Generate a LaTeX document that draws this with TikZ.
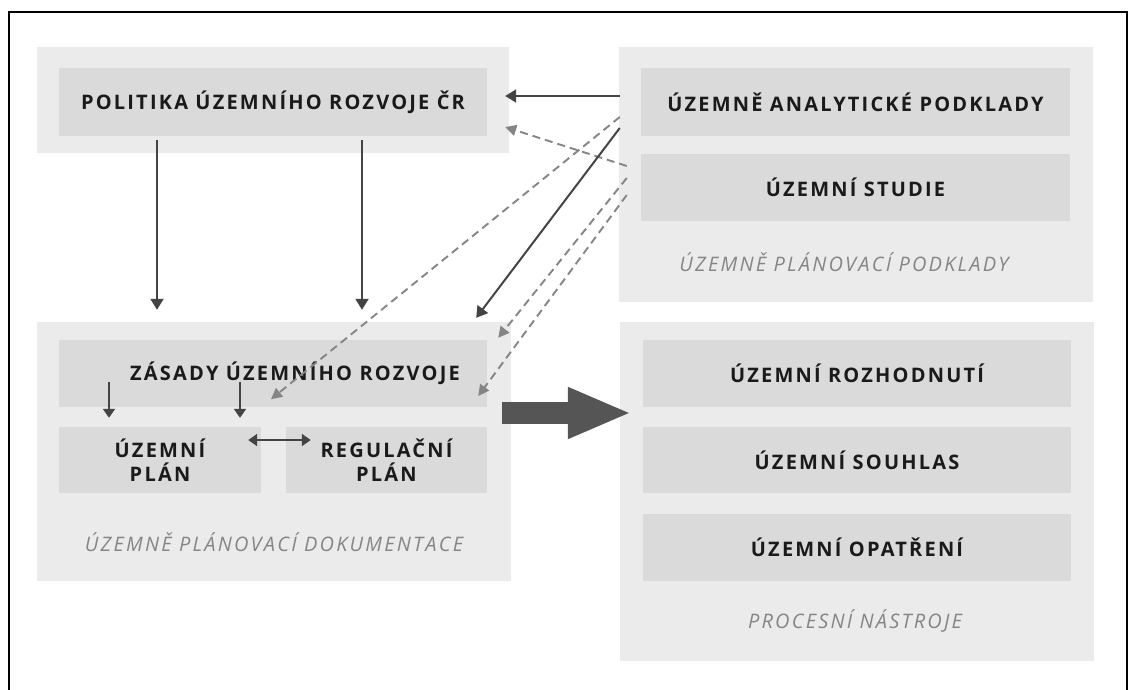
\documentclass[tikz,border=0pt]{standalone}
\usepackage{fontspec}
\setmainfont{Open Sans}
\newfontfamily\capsfont[LetterSpace=11]{Open Sans}
\usetikzlibrary{arrows.meta,calc}

\definecolor{panelgray}{HTML}{EBEBEB}
\definecolor{boxgray}{HTML}{DADADA}
\definecolor{darkarrow}{HTML}{444444}
\definecolor{dasharrow}{HTML}{858585}
\definecolor{biggray}{HTML}{555555}
\definecolor{labelgray}{HTML}{858585}
\definecolor{textdark}{HTML}{1A1A1A}

\newcommand\boxfont{\capsfont\bfseries\fontsize{20}{24}\selectfont}
\newcommand\labelfont{\capsfont\itshape\fontsize{20}{24}\selectfont}

\tikzset{
  panel/.style={fill=panelgray, draw=none, inner sep=0pt},
  box/.style={fill=boxgray, draw=none, inner sep=0pt, font=\boxfont, text=textdark},
  panellabel/.style={font=\labelfont, text=labelgray, inner sep=0pt},
  solidarrow/.style={darkarrow, line width=2pt, -{Triangle[width=13pt,length=11pt]}},
  dasharr/.style={dasharrow, line width=1.9pt, dash pattern=on 8pt off 5pt, -{Triangle[width=11pt,length=11pt]}},
}

\begin{document}
\begin{tikzpicture}[x=1pt, y=-1pt]
  \useasboundingbox (0,0) rectangle (1130,689);
  % Frame
  \draw[line width=2pt] (9,700) -- (9,11.5) -- (1127,11.5) -- (1127,700);

  % Panels
  \node[panel, minimum width=472, minimum height=106] (purPanel) at (273,100) {};
  \node[panel, minimum width=474, minimum height=255] (upp) at (856,174.5) {};
  \node[panel, minimum width=474, minimum height=259] (upd) at (274,451.5) {};
  \node[panel, minimum width=474, minimum height=339] (pn) at (857,491.5) {};

  % Boxes
  \node[box, minimum width=428, minimum height=68] (pur) at (273,102) {POLITIKA ÚZEMNÍHO ROZVOJE ČR};
  \node[box, minimum width=429, minimum height=68] (uap) at (855.5,102) {ÚZEMNĚ ANALYTICKÉ PODKLADY};
  \node[box, minimum width=429, minimum height=67] (us) at (855.5,187.5) {ÚZEMNÍ STUDIE};
  \node[box, minimum width=428, minimum height=67] (zur) at (273,373.5) {\hspace*{44pt}ZÁSADY ÚZEMNÍHO ROZVOJE};
  \node[box, align=center, minimum width=202, minimum height=66] (up) at (160,460) {ÚZEMNÍ\\PLÁN};
  \node[box, align=center, minimum width=201, minimum height=66] (rp) at (386.5,460) {REGULAČNÍ\\PLÁN};
  \node[box, minimum width=428, minimum height=67] (ur) at (857,373.5) {ÚZEMNÍ ROZHODNUTÍ};
  \node[box, minimum width=428, minimum height=66] (uso) at (857,460) {ÚZEMNÍ SOUHLAS};
  \node[box, minimum width=428, minimum height=67] (uo) at (857,547.5) {ÚZEMNÍ OPATŘENÍ};

  % Panel labels
  \node[panellabel] (uppLabel) at ($(upp.south)+(-12,-40)$) {ÚZEMNĚ PLÁNOVACÍ PODKLADY};
  \node[panellabel] (updLabel) at ($(upd.south)+(0,-39)$) {ÚZEMNĚ PLÁNOVACÍ DOKUMENTACE};
  \node[panellabel] (pnLabel) at ($(pn.south)+(-2,-40)$) {PROCESNÍ NÁSTROJE};

  % PÚR down to ZÚR
  \draw[solidarrow] ($(pur.south)+(-116,4)$) -- ($(upd.north)+(-117,-12)$);
  \draw[solidarrow] ($(pur.south)+(89,4)$) -- ($(upd.north)+(88,-12)$);

  % ZÚR down to ÚP, ÚP <-> RP
  \draw[solidarrow, -{Triangle[width=12pt,length=9pt]}] ($(up.north)+(-51,-45)$) -- ($(up.north)+(-51,-9)$);
  \draw[solidarrow, -{Triangle[width=12pt,length=9pt]}] ($(up.north)+(80,-45)$) -- ($(up.north)+(80,-9)$);
  \draw[solidarrow, {Triangle[width=12pt,length=9pt]}-{Triangle[width=12pt,length=9pt]}] ($(up.east)+(-13,-20)$) -- ($(rp.west)+(25,-20)$);

  % Podklady to PÚR and ZÚR
  \draw[solidarrow] ($(uap.west)+(-21,-6)$) -- ($(purPanel.east)+(-4,-4)$);
  \draw[dasharr] ($(us.west)+(-14,-21.5)$) -- ($(purPanel.east)+(-4,27)$);
  \draw[dasharr] ($(uap.west)+(-21,15)$) -- ($(zur.south)+(-2,-8)$);
  \draw[solidarrow] ($(uap.west)+(-21,26)$) -- ($(upd.north east)+(-35,-4)$);
  \draw[dasharr] ($(us.west)+(-14,-9.5)$) -- ($(zur.north east)+(11,-2)$);
  \draw[dasharr] ($(us.west)+(-14,7.5)$) -- ($(zur.east)+(-9,22.5)$);

  % Big arrow to procesni nastroje
  \draw[biggray, line width=22pt, -{Triangle[width=47pt,length=64pt]}] ($(upd.east)+(-9,-38.5)$) -- ($(pn.west)+(12,-78.5)$);
\end{tikzpicture}
\end{document}
